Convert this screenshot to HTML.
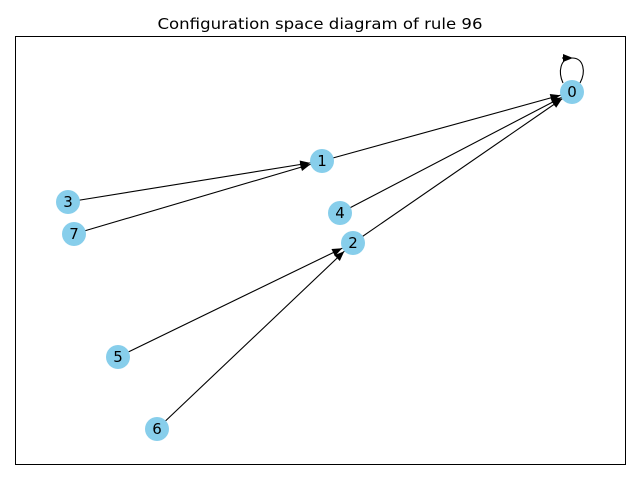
<!DOCTYPE html>
<html><head><style>body{margin:0;background:#fff}svg{display:block}</style></head>
<body>
<svg width="640" height="480" viewBox="0 0 640 480" xmlns="http://www.w3.org/2000/svg">
<defs>
<marker id="a" markerUnits="userSpaceOnUse" markerWidth="12" markerHeight="10" refX="22" refY="4" orient="auto" overflow="visible">
<path d="M0,0 L10,4 L0,8 z" fill="#000"/>
</marker>
<marker id="b" markerUnits="userSpaceOnUse" markerWidth="12" markerHeight="10" refX="8" refY="4" orient="auto" overflow="visible">
<path d="M0,0 L10,4 L0,8 z" fill="#000"/>
</marker>
</defs>
<rect x="15.5" y="36.5" width="610" height="428" fill="none" stroke="#000" stroke-width="1"/>
<text x="320" y="29" font-family="DejaVu Sans, Liberation Sans, sans-serif" font-size="15" text-anchor="middle" textLength="325" lengthAdjust="spacingAndGlyphs">Configuration space diagram of rule 96</text>
<g stroke="#000" stroke-width="1.1" fill="none">
<line x1="322" y1="161" x2="572" y2="92" marker-end="url(#a)"/>
<line x1="68" y1="202" x2="322" y2="161" marker-end="url(#a)"/>
<line x1="74" y1="234" x2="322" y2="161" marker-end="url(#a)"/>
<line x1="340" y1="213" x2="572" y2="92" marker-end="url(#a)"/>
<line x1="353" y1="243" x2="572" y2="92" marker-end="url(#a)"/>
<line x1="118" y1="357" x2="353" y2="243" marker-end="url(#a)"/>
<line x1="157" y1="429" x2="353" y2="243" marker-end="url(#a)"/>
<path d="M580,83 C586,72 584,58 572,58 C560,58 558,72 563,83"/>
<path d="M562,58 L571,58" marker-end="url(#b)"/>
</g>
<g fill="#87ceeb">
<circle cx="572" cy="92" r="12"/><circle cx="322" cy="161" r="12"/>
<circle cx="68" cy="202" r="12"/><circle cx="74" cy="234" r="12"/>
<circle cx="340" cy="213" r="12"/><circle cx="353" cy="243" r="12"/>
<circle cx="118" cy="357" r="12"/><circle cx="157" cy="429" r="12"/>
</g>
<g font-family="DejaVu Sans, Liberation Sans, sans-serif" font-size="15" text-anchor="middle" dominant-baseline="central">
<text x="572" y="92">0</text><text x="322" y="161">1</text>
<text x="68" y="202">3</text><text x="74" y="234">7</text>
<text x="340" y="213">4</text><text x="353" y="243">2</text>
<text x="118" y="357">5</text><text x="157" y="429">6</text>
</g>
</svg>
</body></html>
